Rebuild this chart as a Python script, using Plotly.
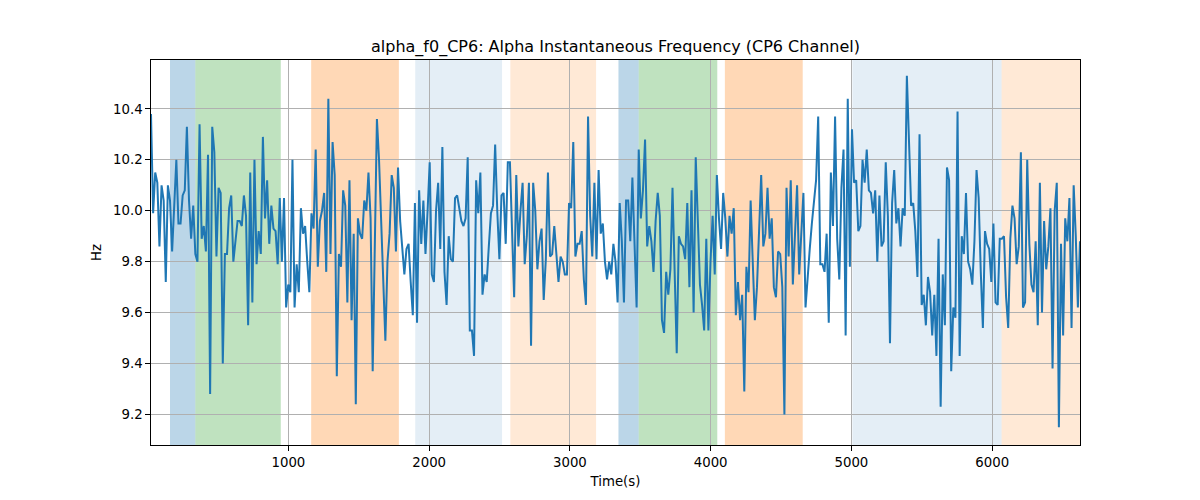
import numpy as np
import plotly.graph_objects as go

# ---- data ----
t_start = 24.0      # first sample time (s)
t_step = 15.0       # sampling step (s)

hz_values = [
    # 160 - 1000 s
    10.38, 9.99, 10.15, 10.11, 9.86, 10.10, 10.04, 9.72, 10.10, 10.04,
    9.84, 10.02, 10.20, 9.95, 9.95, 10.06, 10.08, 10.33, 10.04, 9.89,
    10.02, 9.83, 9.80, 10.34, 9.89, 9.94, 9.84, 10.22, 9.28, 10.33,
    10.23, 9.82, 10.09, 10.07, 9.40, 9.83, 9.83, 10.01, 10.06, 9.80,
    9.88, 9.96, 9.96, 9.94, 10.06, 9.98, 9.55, 10.15, 9.64, 10.20,
    9.79, 9.92, 9.83, 10.29, 9.97, 10.12, 9.87,
    # ~ 860 - 1680 s
    10.02, 9.93, 9.92, 9.79, 10.05, 9.80, 10.05, 9.62, 9.71, 9.68,
    10.20, 9.62, 9.79, 9.68, 10.01, 9.91, 9.94, 9.80, 9.68, 9.99,
    9.93, 10.24, 9.78, 9.96, 10.00, 10.07, 9.76, 10.44, 9.83, 10.27,
    10.14, 9.35, 9.83, 9.78, 10.08, 10.02, 9.64, 10.12, 9.57, 9.91,
    9.24, 9.97, 9.91, 9.89, 10.04, 10.00, 10.15, 9.97, 9.37, 9.86,
    10.36, 10.20, 9.95, 9.70,
    # ~ 1690 - 2490 s
    9.49, 9.80, 9.91, 10.14, 10.09, 9.84, 10.17, 9.96, 9.84, 9.75,
    9.85, 9.87, 9.72, 9.59, 10.03, 9.56, 10.08, 9.87, 10.04, 9.83,
    10.00, 10.19, 9.75, 9.72, 10.00, 10.11, 9.85, 10.25, 9.76, 9.63,
    9.90, 9.81, 9.80, 10.05, 10.06, 10.00, 9.96, 9.94, 9.97, 10.21,
    9.53, 9.53, 9.43, 10.12, 9.99, 10.15, 9.67, 9.75, 9.72, 9.86,
    9.99, 10.02, 10.26,
    # ~ 2500 - 3330 s
    10.00, 9.81, 10.06, 10.07, 9.87, 10.19, 10.19, 9.89, 9.66, 10.14,
    9.86, 10.00, 10.11, 9.79, 9.90, 10.11, 9.47, 10.11, 10.00, 9.77,
    9.88, 9.93, 9.65, 9.81, 10.15, 9.82, 9.83, 9.94, 9.84, 9.72,
    9.82, 9.80, 9.75, 9.75, 10.03, 10.01, 10.27, 9.82, 9.87, 9.87,
    9.92, 9.73, 9.63, 10.37, 9.98, 9.82, 10.11, 9.81, 10.16, 9.91,
    9.95, 9.80, 9.73, 9.80, 9.75, 9.87,
    # ~ 3340 - 4140 s
    9.80, 9.64, 10.03, 9.88, 9.64, 10.04, 10.04, 9.88, 10.13, 9.89,
    9.62, 10.24, 9.97, 10.08, 10.28, 9.86, 9.94, 9.88, 9.76, 9.96,
    10.07, 9.98, 9.57, 9.52, 9.76, 9.67, 9.77, 10.09, 9.73, 9.44,
    9.90, 9.87, 9.86, 9.81, 10.03, 9.70, 10.08, 9.60, 10.21, 9.93,
    9.71, 9.63, 9.53, 9.89, 9.53, 9.80, 9.98, 9.75, 10.14, 9.97,
    9.85, 10.07, 9.97, 9.82,
    # ~ 4150 - 4960 s
    9.98, 9.91, 10.01, 9.59, 9.72, 9.57, 9.67, 9.29, 9.78, 9.68,
    10.04, 9.80, 9.57, 9.70, 9.94, 10.14, 9.86, 9.91, 10.09, 9.89,
    9.97, 9.70, 9.66, 9.84, 9.83, 9.70, 9.20, 10.09, 9.82, 10.12,
    9.71, 9.91, 10.10, 9.75, 9.91, 10.07, 9.62, 9.75, 9.85, 9.95,
    10.05, 10.12, 10.37, 9.79, 9.79, 9.76, 9.91, 9.56, 10.15, 9.94,
    10.37, 9.89, 9.73, 10.09, 10.24,
    # ~ 4970 - 5770 s
    9.51, 10.44, 9.78, 10.32, 10.11, 10.12, 9.92, 9.94, 10.20, 10.11,
    10.24, 10.08, 10.07, 9.99, 10.08, 9.80, 10.06, 9.86, 9.88, 10.19,
    9.98, 9.48, 10.03, 10.16, 9.95, 10.01, 9.86, 10.01, 9.98, 10.53,
    10.27, 10.02, 10.03, 9.92, 9.74, 10.30, 9.63, 9.67, 9.55, 9.74,
    9.68, 9.51, 9.67, 9.43, 9.89, 9.23, 9.75, 9.55, 10.17, 10.12,
    9.37, 9.62, 9.58, 10.39,
    # ~ 5780 - 6630 s
    9.43, 9.90, 9.83, 10.07, 9.80, 9.77, 9.71, 9.88, 10.16, 10.05,
    9.76, 9.54, 9.92, 9.87, 9.85, 9.72, 9.95, 9.64, 9.63, 9.89,
    9.89, 9.90, 9.66, 9.54, 9.89, 10.02, 9.97, 9.79, 9.86, 10.23,
    9.62, 9.64, 10.20, 9.87, 9.71, 9.68, 9.88, 9.55, 10.11, 9.60,
    9.96, 9.77, 9.86, 10.01, 9.38, 10.00, 10.11, 9.15, 9.87, 9.51,
    9.97, 9.88, 10.05, 9.54, 10.10, 9.90, 9.62, 9.88,
]

times = t_start + t_step * np.arange(len(hz_values))

# shaded intervals: (start, end, color, opacity)
span_starts = [159, 339, 1162, 1901, 2577, 3345, 3489, 4101, 5007, 6067]
span_ends = [339, 946, 1785, 2518, 3186, 3489, 4047, 4654, 6067, 6640]
span_colors = ["#1f77b4", "#2ca02c", "#ff7f0e", "#1f77b4", "#ff7f0e",
               "#1f77b4", "#2ca02c", "#ff7f0e", "#1f77b4", "#ff7f0e"]
span_alphas = [0.3, 0.3, 0.3, 0.12, 0.17, 0.3, 0.3, 0.3, 0.12, 0.17]

x_ticks = [1000, 2000, 3000, 4000, 5000, 6000]
y_ticks = [9.2, 9.4, 9.6, 9.8, 10.0, 10.2, 10.4]

# ---- figure ----
fig = go.Figure()
fig.add_trace(go.Scatter(
    x=times, y=hz_values, mode="lines",
    line=dict(color="#1f77b4", width=2),
    showlegend=False, hoverinfo="x+y",
))

shapes = []
for s, e, c, a in zip(span_starts, span_ends, span_colors, span_alphas):
    shapes.append(dict(
        type="rect", xref="x", yref="paper", x0=s, x1=e, y0=0, y1=1,
        fillcolor=c, opacity=a, line=dict(width=0), layer="below",
    ))

font_family = "DejaVu Sans, sans-serif"
fig.update_layout(
    width=1200, height=500,
    margin=dict(l=151, r=120, t=60, b=55),
    paper_bgcolor="white", plot_bgcolor="white",
    shapes=shapes,
    font=dict(family=font_family, size=13.3, color="black"),
    title=dict(
        text="alpha_f0_CP6: Alpha Instantaneous Frequency (CP6 Channel)",
        x=0.5, xref="paper", xanchor="center",
        y=1 - 46 / 500, yref="container", yanchor="middle",
        font=dict(family=font_family, size=16, color="black"),
    ),
    xaxis=dict(
        range=[float(times[0]), float(times[-1])],
        tickvals=x_ticks, ticktext=[str(v) for v in x_ticks],
        showgrid=True, gridcolor="#b0b0b0", gridwidth=0.8,
        zeroline=False, showline=True, linecolor="black", linewidth=1,
        mirror=True, ticks="outside", ticklen=4.7, tickwidth=0.8,
        tickcolor="black", automargin=False,
        title=dict(text="Time(s)", standoff=8,
                   font=dict(family=font_family, size=13.3)),
    ),
    yaxis=dict(
        range=[9.08, 10.592],
        tickvals=y_ticks, ticktext=[f"{v:.1f}" for v in y_ticks],
        showgrid=True, gridcolor="#b0b0b0", gridwidth=0.8,
        zeroline=False, showline=True, linecolor="black", linewidth=1,
        mirror=True, ticks="outside", ticklen=4.7, tickwidth=0.8,
        tickcolor="black", automargin=False,
        title=dict(text="Hz", standoff=8,
                   font=dict(family=font_family, size=13.3)),
    ),
)

fig.write_html("out.html", config={"displayModeBar": False},
               post_script="document.body.style.margin='0px';")
